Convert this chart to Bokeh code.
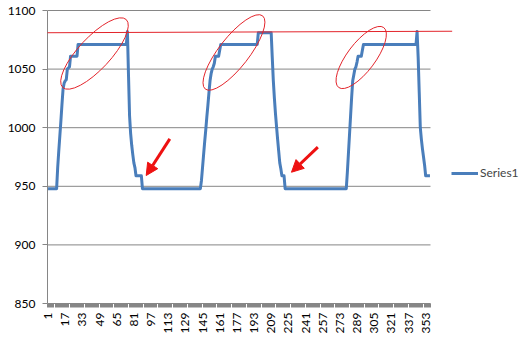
import math
from bokeh.plotting import figure
from bokeh.models import Range1d, FixedTicker, Legend, LegendItem, Arrow, NormalHead
from bokeh.embed import file_html
from bokeh.resources import INLINE

# ---- data ----
categories = list(range(1, 358))
series1 = [
    948, 948, 948, 948, 948, 948, 948, 948, 948,
    966, 980, 993, 1006, 1020, 1033, 1038, 1040, 1041, 1050, 1051, 1052,
    1061, 1061, 1061, 1061, 1061, 1061, 1061,
    1071, 1071, 1071, 1071, 1071, 1071, 1071, 1071, 1071, 1071,
    1071, 1071, 1071, 1071, 1071, 1071, 1071, 1071, 1071, 1071,
    1071, 1071, 1071, 1071, 1071, 1071, 1071, 1071, 1071, 1071,
    1071, 1071, 1071, 1071, 1071, 1071, 1071, 1071, 1071, 1071,
    1071, 1071, 1071, 1071, 1071, 1071,
    1082,
    1045, 1010, 995, 985, 977, 970, 966,
    959, 959, 959, 959, 959, 959,
    948, 948, 948, 948, 948, 948, 948, 948, 948, 948,
    948, 948, 948, 948, 948, 948, 948, 948, 948, 948,
    948, 948, 948, 948, 948, 948, 948, 948, 948, 948,
    948, 948, 948, 948, 948, 948, 948, 948, 948, 948,
    948, 948, 948, 948, 948, 948, 948, 948, 948, 948,
    948, 948, 948, 948, 948,
    955, 966, 977, 988, 998, 1009, 1019, 1030, 1040, 1046, 1050, 1052, 1055,
    1061, 1061, 1061, 1061,
    1066,
    1071, 1071, 1071, 1071, 1071, 1071, 1071, 1071, 1071, 1071,
    1071, 1071, 1071, 1071, 1071, 1071, 1071, 1071, 1071, 1071,
    1071, 1071, 1071, 1071, 1071, 1071, 1071, 1071, 1071, 1071,
    1071, 1071, 1071, 1071, 1071,
    1081, 1081, 1081, 1081, 1081, 1081, 1081, 1081, 1081, 1081,
    1081, 1081, 1081,
    1060, 1040, 1025, 1012, 1001, 990, 980, 970, 965,
    959, 959, 959,
    948, 948, 948, 948, 948, 948, 948, 948, 948, 948,
    948, 948, 948, 948, 948, 948, 948, 948, 948, 948,
    948, 948, 948, 948, 948, 948, 948, 948, 948, 948,
    948, 948, 948, 948, 948, 948, 948, 948, 948, 948,
    948, 948, 948, 948, 948, 948, 948, 948, 948, 948,
    948, 948, 948, 948, 948, 948, 948, 948,
    962, 978, 994, 1010, 1026, 1040, 1045, 1050, 1052, 1056,
    1061, 1061, 1061, 1061,
    1066,
    1071, 1071, 1071, 1071, 1071, 1071, 1071, 1071, 1071, 1071,
    1071, 1071, 1071, 1071, 1071, 1071, 1071, 1071, 1071, 1071,
    1071, 1071, 1071, 1071, 1071, 1071, 1071, 1071, 1071, 1071,
    1071, 1071, 1071, 1071, 1071, 1071, 1071, 1071, 1071, 1071,
    1071, 1071, 1071, 1071, 1071, 1071, 1071, 1071, 1071, 1071,
    1082,
    1060, 1030, 1000, 990, 982, 975, 968,
    959, 959, 959, 959, 959,
]
x_tick_labels = [1, 17, 33, 49, 65, 81, 97, 113, 129, 145, 161, 177, 193,
                 209, 225, 241, 257, 273, 289, 305, 321, 337, 353]
y_ticks = [850, 900, 950, 1000, 1050, 1100]
series_name = "Series1"

# ---- annotation shapes drawn on the screenshot (data units) ----
red_line = dict(x0=-7.9, y0=1081.0, x1=377.7, y1=1082.3)
ell_x = [44.3, 174.3, 292.9]
ell_y = [1063.3, 1064.2, 1059.9]
ell_w = [93, 93, 75]
ell_h = [32, 30, 28]
ell_angle_deg = [47, 52, 53]
arrows = [(114.5, 990.5, 92.5, 959.2), (252.5, 983.4, 227.9, 962.0)]

FONT = "Lato"
GRID = "#868686"
BLUE = "#4A7EBB"
RED = "#E3242B"

# layout: plot area 47..430 px for the categories, frame extended to the right edge
W, H = 524, 339
LEFT, TOP_PAD, BOTTOM = 47, 8, 36
PLOT_W = 383
n = len(categories)
units_per_px_x = n / PLOT_W
units_per_px_y = (y_ticks[-1] - y_ticks[0]) / (H - 10 - BOTTOM)
x_end = 0.5 + (W - LEFT) * units_per_px_x
y_end = y_ticks[-1] + (10 - TOP_PAD) * units_per_px_y

p = figure(width=W, height=H, output_backend="svg", toolbar_location=None,
           x_range=Range1d(0.5, x_end), y_range=Range1d(y_ticks[0], y_end),
           min_border_left=LEFT, min_border_right=0, min_border_top=TOP_PAD,
           min_border_bottom=BOTTOM)
p.outline_line_color = None
p.background_fill_color = "white"
p.border_fill_color = "white"

p.xgrid.visible = False
p.ygrid.visible = False
# horizontal gridlines only across the category span
p.segment(x0=[0.5] * (len(y_ticks) - 1), x1=[n + 0.5] * (len(y_ticks) - 1),
          y0=y_ticks[1:], y1=y_ticks[1:], line_color=GRID, line_width=1)

p.yaxis.ticker = FixedTicker(ticks=y_ticks)
p.yaxis.bounds = (y_ticks[0], y_ticks[-1])
p.yaxis.axis_line_color = GRID
p.yaxis.major_tick_line_color = GRID
p.yaxis.major_tick_out = 5
p.yaxis.major_tick_in = 0
p.yaxis.minor_tick_line_color = None
p.yaxis.major_label_standoff = 7
p.yaxis.major_label_text_font = FONT
p.yaxis.major_label_text_font_size = "12px"
p.yaxis.major_label_text_color = "#000000"

minor = [c - 0.5 for c in categories] + [categories[-1] + 0.5]
p.xaxis.ticker = FixedTicker(ticks=x_tick_labels, minor_ticks=minor)
p.xaxis.bounds = (0.5, n + 0.5)
p.xaxis.axis_line_color = GRID
p.xaxis.major_tick_line_color = None
p.xaxis.major_tick_out = 4
p.xaxis.major_tick_in = 0
p.xaxis.minor_tick_line_color = GRID
p.xaxis.minor_tick_out = 4
p.xaxis.minor_tick_in = 0
p.xaxis.major_label_orientation = math.pi / 2
p.xaxis.major_label_standoff = 5
p.xaxis.major_label_text_font = FONT
p.xaxis.major_label_text_font_size = "12px"
p.xaxis.major_label_text_color = "#000000"

r = p.line(categories, series1, line_color=BLUE, line_width=3, line_join="round")

legend = Legend(items=[LegendItem(label=series_name, renderers=[r])],
                location=(404, 123), padding=0, margin=0, spacing=0,
                border_line_color=None, background_fill_alpha=0,
                glyph_width=27, glyph_height=14, label_height=14, label_standoff=2,
                label_text_font=FONT, label_text_font_size="12px")
p.add_layout(legend, "center")

# annotations drawn on the screenshot
p.ellipse(x=ell_x, y=ell_y, width=ell_w, height=ell_h,
          angle=[math.radians(a) for a in ell_angle_deg],
          width_units="screen", height_units="screen",
          fill_color=None, line_color=RED, line_width=1)
p.add_layout(Arrow(x_start=red_line["x0"], y_start=red_line["y0"],
                   x_end=red_line["x1"], y_end=red_line["y1"],
                   line_color=RED, line_width=1, end=None))
for (xs, ys, xe, ye) in arrows:
    p.add_layout(Arrow(x_start=xs, y_start=ys, x_end=xe, y_end=ye,
                       line_color="#EE1111", line_width=3,
                       end=NormalHead(size=12, fill_color="#EE1111", line_color="#EE1111")))

open("out.html", "w").write(file_html(p, INLINE))
